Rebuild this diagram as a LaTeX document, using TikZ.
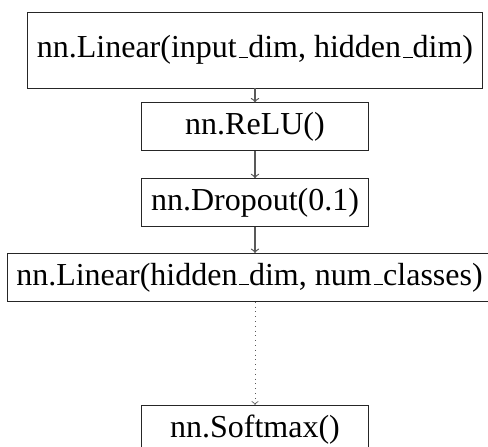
\documentclass[tikz,border=0pt]{standalone}
\usepackage{fontspec}
\setmainfont{Liberation Serif}
\usetikzlibrary{positioning,arrows}
\newcommand{\us}{\leavevmode\kern.06em\vbox{\hrule width.3em}}

\begin{document}
\begin{tikzpicture}[->,>=to,semithick,draw=black!65,
		layer/.style={draw=black!85,thin,minimum width=113.5pt,minimum height=24pt,inner xsep=4.5pt,font=\fontsize{16pt}{19pt}\selectfont}]
		\useasboundingbox (0,0) rectangle (244pt,-223pt);
		\node[layer,minimum height=38pt] (lin1) at (127.5pt,-25pt) {nn.Linear(input\us dim, hidden\us dim)};
		\node[layer] (relu) [below=7pt of lin1] {nn.ReLU()};
		\node[layer] (drop) [below=13.5pt of relu] {nn.Dropout(0.1)};
		\node[layer] (lin2) [below=13pt of drop,xshift=-2.75pt] {nn.Linear(hidden\us dim, num\us classes)};
		\node[layer] (soft) [below=51.5pt of lin2,xshift=2.75pt] {nn.Softmax()};
	
		\draw 	(lin1) -- (relu);
		\draw 	(relu) -- (drop);
		\draw 	(drop) -- (drop |- lin2.north);
		\draw[dotted,thin] (soft |- lin2.south) -- (soft);
		\end{tikzpicture}
\end{document}
